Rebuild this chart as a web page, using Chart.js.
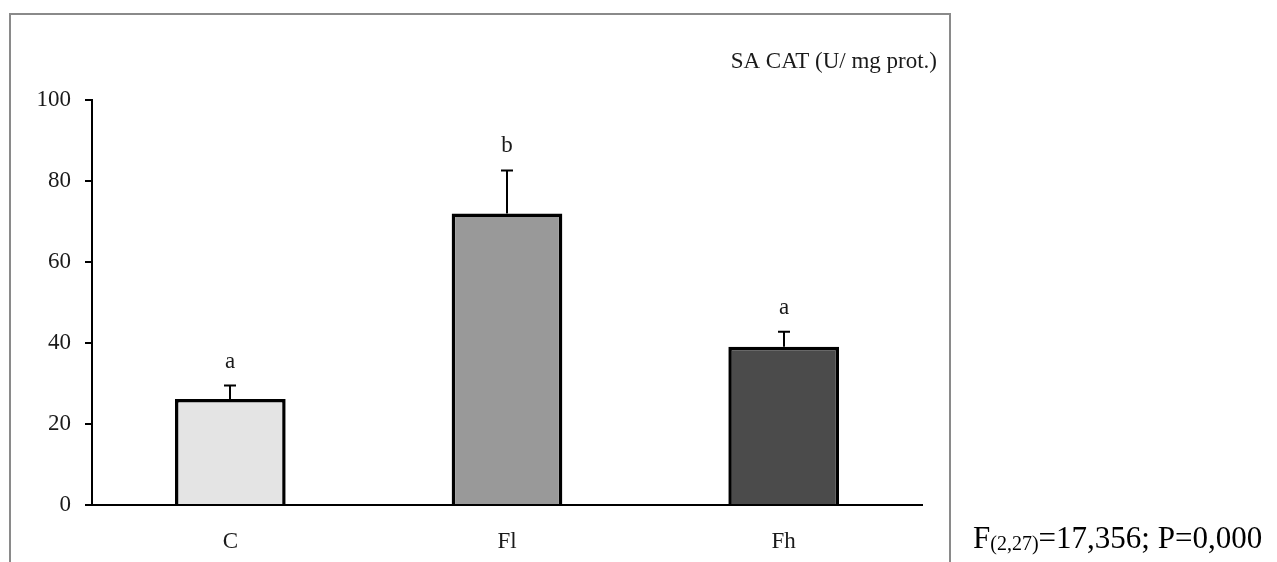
<!DOCTYPE html>
<html>
<head>
  <meta charset="utf-8">
  <title>SA CAT</title>
  <style>
    html, body { margin: 0; padding: 0; background: #fff; }
    #chart { display: block; }
  </style>
  <script src="https://cdn.jsdelivr.net/npm/chart.js@4.4.1/dist/chart.umd.min.js"></script>
</head>
<body>
<canvas id="chart" width="1277" height="562"></canvas>
<script>
// data
var groups = ['C', 'Fl', 'Fh'];
var means = [26.2, 72.0, 39.1];
var errors = [3.3, 10.6, 3.7];
var letters = ['a', 'b', 'a'];
var barColors = ['#e4e4e4', '#999999', '#4b4b4b'];
var yTicks = [0, 20, 40, 60, 80, 100];

var serif = '"Liberation Serif", "Times New Roman", serif';

// frame, title, error bars, letters, F statistic
var extras = {
  id: 'extras',
  beforeDraw: function(chart) {
    var ctx = chart.ctx;
    ctx.save();
    ctx.strokeStyle = '#8a8a8a';
    ctx.lineWidth = 2;
    ctx.strokeRect(10, 14, 940, 620);
    ctx.restore();
  },
  afterDatasetsDraw: function(chart) {
    var ctx = chart.ctx;
    var y = chart.scales.y;
    var meta = chart.getDatasetMeta(0);
    ctx.save();
    ctx.strokeStyle = '#000';
    ctx.lineWidth = 2;
    ctx.fillStyle = '#1a1a1a';
    ctx.font = '23px ' + serif;
    ctx.textAlign = 'center';
    ctx.textBaseline = 'alphabetic';
    for (var i = 0; i < means.length; i++) {
      var x = Math.round(meta.data[i].x);
      var yb = y.getPixelForValue(means[i]);
      var yt = y.getPixelForValue(means[i] + errors[i]);
      ctx.beginPath();
      ctx.moveTo(x, yb);
      ctx.lineTo(x, yt);
      ctx.moveTo(x - 6, yt);
      ctx.lineTo(x + 6, yt);
      ctx.stroke();
      ctx.fillText(letters[i], x, yt - 18);
    }
    ctx.restore();
  },
  afterDraw: function(chart) {
    var ctx = chart.ctx;
    ctx.save();
    ctx.fillStyle = '#1a1a1a';
    ctx.font = '23px ' + serif;
    ctx.textAlign = 'right';
    ctx.fillText('SA CAT (U/ mg prot.)', 937, 68);

    // F(2,27)=17,356; P=0,000
    ctx.fillStyle = '#000';
    ctx.textAlign = 'left';
    var fx = 973;
    ctx.font = '31px ' + serif;
    ctx.fillText('F', fx, 548);
    fx += ctx.measureText('F').width;
    ctx.font = '20px ' + serif;
    ctx.fillText('(2,27)', fx, 550);
    fx += ctx.measureText('(2,27)').width;
    ctx.font = '31px ' + serif;
    ctx.fillText('=17,356; P=0,000', fx, 548);
    ctx.restore();
  }
};

var ctx = document.getElementById('chart').getContext('2d');
var myChart = new Chart(ctx, {
  type: 'bar',
  data: {
    labels: groups,
    datasets: [{
      data: means,
      backgroundColor: barColors,
      borderColor: '#000',
      borderWidth: 3.5,
      barPercentage: 0.4,
      categoryPercentage: 1.0
    }]
  },
  options: {
    responsive: false,
    animation: false,
    layout: { padding: { left: 0, top: 100, right: 355, bottom: 0 } },
    plugins: {
      legend: { display: false },
      tooltip: { enabled: false },
      title: { display: false }
    },
    scales: {
      x: {
        grid: { display: false, drawTicks: false },
        border: { display: true, color: '#000', width: 2 },
        ticks: { color: '#1a1a1a', padding: 23, font: { family: serif, size: 23 } },
        afterFit: function(s) { s.height = 57; }
      },
      y: {
        min: 0,
        max: 100,
        afterBuildTicks: function(s) { s.ticks = yTicks.map(function(v) { return { value: v }; }); },
        grid: { drawOnChartArea: false, drawTicks: true, tickLength: 7, color: '#000', lineWidth: 2 },
        border: { display: true, color: '#000', width: 2 },
        ticks: { color: '#1a1a1a', padding: 14, font: { family: serif, size: 23 } },
        afterFit: function(s) { s.width = 92; }
      }
    }
  },
  plugins: [extras]
});
</script>
</body>
</html>
